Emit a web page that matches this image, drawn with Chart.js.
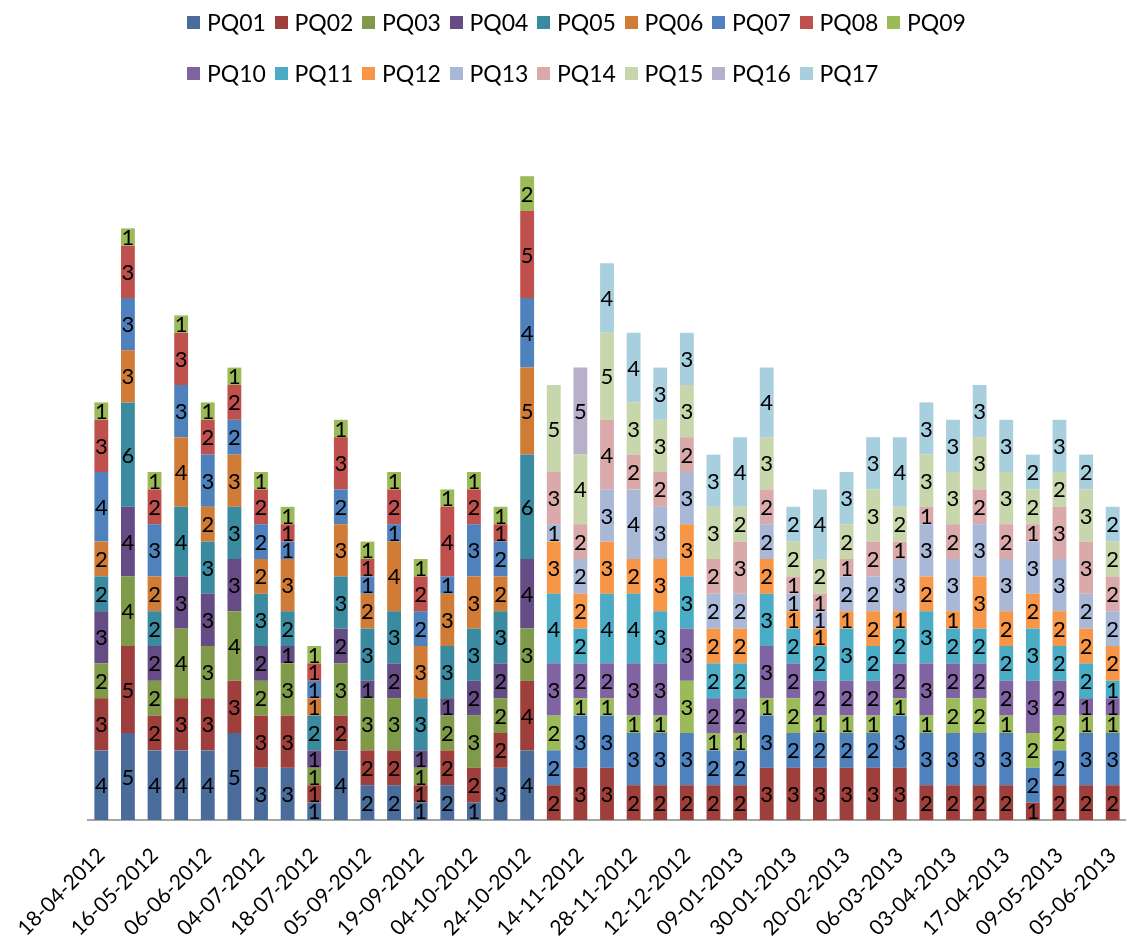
<!DOCTYPE html>
<html>
<head>
<meta charset="utf-8">
<script src="https://cdn.jsdelivr.net/npm/chart.js@4/dist/chart.umd.min.js"></script>
<style>
  body { margin: 0; background: #fff; }
  #wrap { position: relative; width: 1126px; height: 944px; }
  #legend {
    position: absolute; left: 187px; top: 8px; width: 820px;
    font-family: Lato, sans-serif; font-size: 23px; color: #000;
  }
  #legend .row { display: flex; height: 51px; }
  #legend .item { display: flex; align-items: center; width: 87.5px; height: 28px; }
  #legend .box { width: 13px; height: 13px; margin-right: 7px; }
  canvas { position: absolute; left: 0; top: 0; }
</style>
</head>
<body>
<div id="wrap">
  <canvas id="pqChart" width="1126" height="944"></canvas>
  <div id="legend"></div>
</div>
<script>
// one entry per survey date; only every second date is printed on the axis
const dates = [
  "18-04-2012", "", "16-05-2012", "", "06-06-2012", "", "04-07-2012", "", "18-07-2012", "",
  "05-09-2012", "", "19-09-2012", "", "04-10-2012", "", "24-10-2012", "", "14-11-2012", "",
  "28-11-2012", "", "12-12-2012", "", "09-01-2013", "", "30-01-2013", "", "20-02-2013", "",
  "06-03-2013", "", "03-04-2013", "", "17-04-2013", "", "09-05-2013", "", "05-06-2013"
];

const pq01 = [4,5,4,4,4,5,3,3,1,4,2,2,1,2,1,3,4, 0,0,0,0,0,0,0,0,0,0,0,0,0,0,0,0,0,0,0,0,0,0];
const pq02 = [3,5,2,3,3,3,3,3,1,2,2,2,1,2,2,2,4, 2,3,3,2,2,2,2,2,3,3,3,3,3,3,2,2,2,2,1,2,2,2];
const pq03 = [2,4,2,4,3,4,2,3,1,3,3,3,1,2,3,2,3, 0,0,0,0,0,0,0,0,0,0,0,0,0,0,0,0,0,0,0,0,0,0];
const pq04 = [3,4,2,3,3,3,2,1,1,2,1,2,1,1,2,2,4, 0,0,0,0,0,0,0,0,0,0,0,0,0,0,0,0,0,0,0,0,0,0];
const pq05 = [2,6,2,4,3,3,3,2,2,3,3,3,3,3,3,3,6, 0,0,0,0,0,0,0,0,0,0,0,0,0,0,0,0,0,0,0,0,0,0];
const pq06 = [2,3,2,4,2,3,2,3,1,3,2,4,3,3,3,2,5, 0,0,0,0,0,0,0,0,0,0,0,0,0,0,0,0,0,0,0,0,0,0];
const pq07 = [4,3,3,3,3,2,2,1,1,2,1,1,2,1,3,2,4, 2,3,3,3,3,3,2,2,3,2,2,2,2,3,3,3,3,3,2,2,3,3];
const pq08 = [3,3,2,3,2,2,2,1,1,3,1,2,2,4,2,1,5, 0,0,0,0,0,0,0,0,0,0,0,0,0,0,0,0,0,0,0,0,0,0];
const pq09 = [1,1,1,1,1,1,1,1,1,1,1,1,1,1,1,1,2, 2,1,1,1,1,3,1,1,1,2,1,1,1,1,1,2,2,1,2,2,1,1];
const pq10 = [0,0,0,0,0,0,0,0,0,0,0,0,0,0,0,0,0, 3,2,2,3,3,3,2,2,3,2,2,2,2,2,3,2,2,2,3,2,1,1];
const pq11 = [0,0,0,0,0,0,0,0,0,0,0,0,0,0,0,0,0, 4,2,4,4,3,3,2,2,3,2,2,3,2,2,3,2,2,2,3,2,2,1];
const pq12 = [0,0,0,0,0,0,0,0,0,0,0,0,0,0,0,0,0, 3,2,3,2,3,3,2,2,2,1,1,1,2,1,2,1,3,2,2,2,2,2];
const pq13 = [0,0,0,0,0,0,0,0,0,0,0,0,0,0,0,0,0, 1,2,3,4,3,3,2,2,2,1,1,2,2,3,3,3,3,3,3,3,2,2];
const pq14 = [0,0,0,0,0,0,0,0,0,0,0,0,0,0,0,0,0, 3,2,4,2,2,2,2,3,2,1,1,1,2,1,1,2,2,2,1,3,3,2];
const pq15 = [0,0,0,0,0,0,0,0,0,0,0,0,0,0,0,0,0, 5,4,5,3,3,3,3,2,3,2,2,2,3,2,3,3,3,3,2,2,3,2];
const pq16 = [0,0,0,0,0,0,0,0,0,0,0,0,0,0,0,0,0, 0,5,0,0,0,0,0,0,0,0,0,0,0,0,0,0,0,0,0,0,0,0];
const pq17 = [0,0,0,0,0,0,0,0,0,0,0,0,0,0,0,0,0, 0,0,4,4,3,3,3,4,4,2,4,3,3,4,3,3,3,3,2,3,2,2];

const seriesNames = ["PQ01","PQ02","PQ03","PQ04","PQ05","PQ06","PQ07","PQ08","PQ09",
                     "PQ10","PQ11","PQ12","PQ13","PQ14","PQ15","PQ16","PQ17"];
const seriesData = [pq01,pq02,pq03,pq04,pq05,pq06,pq07,pq08,pq09,
                    pq10,pq11,pq12,pq13,pq14,pq15,pq16,pq17];
const seriesColors = [
  "#4a6c9b", "#9e3f3c", "#7f9a48", "#654c84", "#3a8ba0", "#d17c36",
  "#4f81bd", "#c0504d", "#9bbb59", "#8064a2", "#4bacc6", "#f79646",
  "#a9b8d7", "#d9aaa9", "#c8d6ab", "#b8afcb", "#a7cfde"
];

const FONT = "Lato, sans-serif";

// count written in the middle of every segment
const segmentLabels = {
  id: "segmentLabels",
  afterDatasetsDraw(chart) {
    const ctx = chart.ctx;
    ctx.save();
    ctx.font = "22px " + FONT;
    ctx.fillStyle = "#000";
    ctx.textAlign = "center";
    ctx.textBaseline = "middle";
    chart.data.datasets.forEach((ds, i) => {
      chart.getDatasetMeta(i).data.forEach((bar, j) => {
        const v = ds.data[j];
        if (!v) return;
        const p = bar.getProps(["x", "y", "base"], true);
        ctx.fillText(String(v), p.x, (p.y + p.base) / 2 + 1);
      });
    });
    ctx.restore();
  }
};

// legend: two left-aligned rows
const legendEl = document.getElementById("legend");
[seriesNames.slice(0, 9), seriesNames.slice(9)].forEach((names, r) => {
  const row = document.createElement("div");
  row.className = "row";
  names.forEach((name, k) => {
    const idx = r * 9 + k;
    const item = document.createElement("div");
    item.className = "item";
    item.innerHTML = '<span class="box" style="background:' + seriesColors[idx] + '"></span>' + name;
    row.appendChild(item);
  });
  legendEl.appendChild(row);
});

new Chart(document.getElementById("pqChart"), {
  type: "bar",
  data: {
    labels: dates,
    datasets: seriesNames.map((name, i) => ({
      label: name,
      data: seriesData[i],
      backgroundColor: seriesColors[i],
      borderWidth: 0,
      barPercentage: 0.52,
      categoryPercentage: 1
    }))
  },
  options: {
    responsive: false,
    animation: false,
    layout: { padding: { top: 124, left: 88, right: 0, bottom: 0 } },
    scales: {
      x: {
        stacked: true,
        grid: { display: false },
        border: { display: true, color: "#a6a6a6", width: 2 },
        ticks: {
          autoSkip: false,
          maxRotation: 45,
          minRotation: 45,
          padding: 15,
          color: "#000",
          font: { family: FONT, size: 21 }
        },
        // fixed band for the date labels; the last one ends at its bar
        afterFit(scale) {
          scale.height = 124;
          scale.paddingLeft = 0;
          scale.paddingRight = 0;
        }
      },
      y: {
        stacked: true,
        display: false,
        min: 0,
        max: 40
      }
    },
    plugins: {
      legend: { display: false },
      tooltip: { enabled: true }
    }
  },
  plugins: [segmentLabels]
});
</script>
</body>
</html>
